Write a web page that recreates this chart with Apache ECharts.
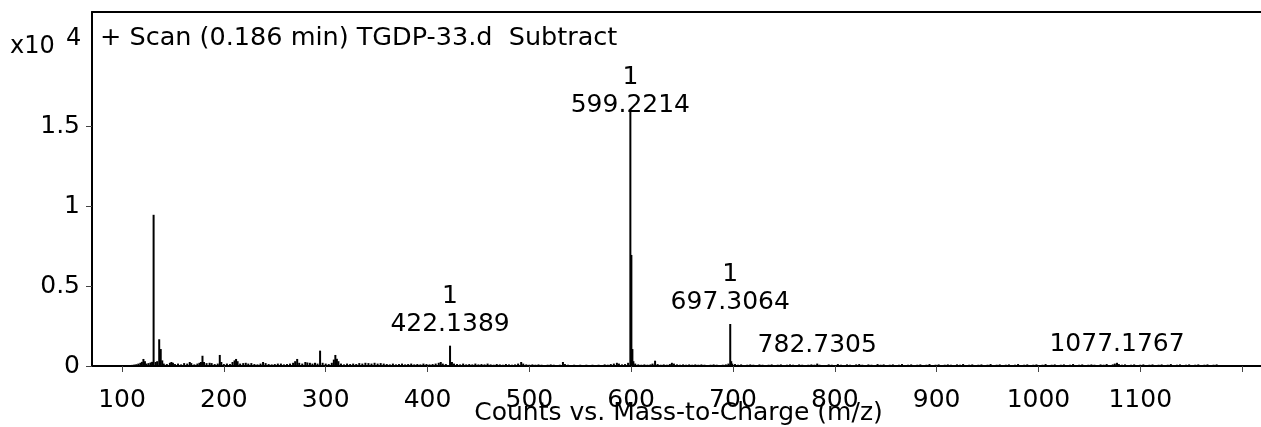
<!DOCTYPE html>
<html><head><meta charset="utf-8">
<script src="https://cdn.jsdelivr.net/npm/echarts@6/dist/echarts.min.js"></script>
<style>html,body{margin:0;padding:0;background:#fff}#c{width:1261px;height:427px}</style>
</head><body><div id="c"></div>
<script>
// [m/z, counts] sticks
const peaksLow = [
 [105,50],[108,60],[110,70],[112,90],[114,110],[116,150],[118,200],[119.5,260],[121,440],[122.5,300],[124,150],[126,180],[128,220],[129.5,260],
 [131,9450],[133,250],[134.5,300],[136.5,1670],[138,1060],[139.5,350],[141,150],[144,120],[147,200],[148.5,250],[150,200],[152,120],[155,150],
 [158,100],[161,180],[164,150],[166.5,250],[168,180],[171,100],[174,150],[176,200],[177.5,250],[179,640],[180.5,250],[183,180],[186,200],
 [188,180],[191,120],[194,150],[196,690],[197.5,250],[200,120],[203,150],[206,120],[208.5,250],[210.5,350],[212,440],[213.5,300],[216,150],
 [219,180],[221.5,200],[224,150],[227,180],[230,120],[233,100],[236,150],[238.5,250],[241,180],[244,120],[247,100],[250,120],[253,150],
 [256,150],[259,100],[262,120],[265,150],[268,200],[270,300],[272,440],[274,200],[277,150],[280,250],[282,220],[284.5,200],[287,150],
 [289.5,200],[292,150],[294.5,960],[297,200],[300,150],[303,120],[306,200],[308,400],[309.5,690],[311,450],[312.5,300],[315,150],[318,100],
 [321,150],[324,120],[327,150],[330,120],[333,180],[336,150],[339,200],[342,180],[345,150],[348,200],[351,150],[354,180],[357,150],
 [360,120],[363,100],[366,150],[369,100],[372,120],[375,150],[378,100],[381,120],[384,150],[387,100],[390,120],[393,100],[396,150],
 [399,120],[402,100],[405,120],[408,150],[411,200],[413,250],[415,150],[418,120]
];
const peaksMid = [
 [422.1389,1270],[424,250],[426,150],[429,120],[432,100],[435,150],[438,100],[441,120],[444,100],[447,150],[450,100],[453,120],[456,100],
 [459,150],[462,100],[465,80],[468,120],[471,100],[474,80],[477,120],[480,100],[483,80],[486,100],[489,150],[492,250],[494,150],[497,100],
 [500,80],[503,100],[506,80],[509,100],[512,80],[515,60],[518,80],[521,100],[524,80],[527,60],[530,80],[533,250],[535,120],[538,80],
 [541,60],[544,80],[547,60],[550,80],[553,60],[556,80],[559,60],[562,80],[565,60],[568,80],[571,60],[574,100],[577,80],[580,120],[583,150],
 [586,200],[588,150],[591,100],[594,120],[597,200],
 [599.2214,16000],[600.22,6940],[601.22,1060],[602.2,300],
 [604,150],[607,100],[610,80],[613,100],[616,80],[619,100],[621,150],[623.5,330],[626,120],[629,80],[632,100],[635,80],[638,120],[640,200],
 [642,150],[645,100],[648,80],[651,100],[654,80],[657,100],[660,80],[663,100],[666,80],[669,100],[672,80],[675,60],[678,80],[681,100],
 [684,80],[687,60],[690,80],[693,100],[695.5,150],[697.3064,2625],[698.3,300],[699.3,150]
];
const peaksHigh = [
 [702,120],[705,80],[708,100],[711,60],[714,80],[717,100],[720,80],[723,60],[726,100],[729,80],[732,60],[735,80],[738,100],[741,60],
 [744,80],[747,100],[750,60],[753,80],[756,100],[759,80],[762,60],[765,100],[768,80],[771,60],[774,80],[777,100],[780,80],[782.7305,150],
 [785,80],[788,60],[791,60],[794,100],[797,80],[800,60],[803,120],[806,80],[809,60],[812,100],[815,80],[818,60],[821,100],[824,120],
 [827,80],[830,60],[833,100],[836,80],[839,60],[842,120],[845,80],[848,100],[851,60],[854,80],[857,100],[860,60],[863,80],[866,120],
 [869,60],[872,80],[875,100],[878,60],[881,80],[884,100],[887,60],[890,80],[893,120],[896,60],[899,80],[902,100],[905,60],[908,80],
 [911,100],[914,80],[917,60],[920,100],[923,80],[926,120],[929,60],[932,80],[935,100],[938,60],[941,80],[944,100],[947,60],[950,80],
 [953,120],[956,60],[959,80],[962,100],[965,60],[968,80],[971,100],[974,60],[977,80],[980,120],[983,60],[986,80],[989,100],[992,60],
 [995,80],[998,100],[1001,60],[1004,80],[1007,120],[1010,60],[1013,80],[1016,100],[1019,60],[1022,80],[1025,100],[1028,60],[1031,80],
 [1034,120],[1037,60],[1040,80],[1043,100],[1046,60],[1049,80],[1052,100],[1055,80],[1058,60],[1061,100],[1064,80],[1067,120],[1070,60],
 [1073,100],[1075,150],[1077.1767,200],[1079,120],[1082,80],[1085,100],[1088,60],[1091,80],[1094,100],[1097,60],[1100,80],[1103,100],
 [1106,60],[1109,80],[1112,100],[1115,60],[1118,80],[1121,100],[1124,60],[1127,80],[1130,120],[1133,60],[1136,80],[1139,100],[1142,60],
 [1145,80],[1148,100],[1151,60],[1154,80],[1157,100],[1160,60],[1163,80],[1166,100],[1169,60],[1172,80],[1175,100],[1178,60],[1181,40],
 [1186,60],[1191,40]
];
// annotated peaks
const labelMz = [599.2214, 422.1389, 697.3064, 782.7305, 1077.1767];
const labelText = ['599.2214', '422.1389', '697.3064', '782.7305', '1077.1767'];
const labelCharge = ['1', '1', '1', '', ''];
// axes
const xTicks = [100,200,300,400,500,600,700,800,900,1000,1100,1200];
const xTickLabels = [100,200,300,400,500,600,700,800,900,1000,1100];
const yTicks = [0,5000,10000,15000];
const yTickLabels = ['0','0.5','1','1.5'];
const titleText = '+ Scan (0.186 min) TGDP-33.d  Subtract';
const xName = 'Counts vs. Mass-to-Charge (m/z)';

const FONT = 'DejaVu Sans';
const sticks = peaksLow.concat(peaksMid, peaksHigh);
const countOf = m => { const p = sticks.find(s => s[0] === m); return p ? p[1] : 0; };
const labelDistance = { '599.2214': -10, '782.7305': 4, '1077.1767': 4 };
const annData = labelMz.map((m, i) => ({
  value: [m, countOf(m)],
  label: { distance: labelDistance[labelText[i]] !== undefined ? labelDistance[labelText[i]] : 7,
           formatter: labelCharge[i] ? labelCharge[i] + '\n' + labelText[i] : labelText[i] }
}));

const chart = echarts.init(document.getElementById('c'), null, { renderer: 'canvas' });
chart.setOption({
  animation: false,
  backgroundColor: '#fff',
  title: [
    { text: titleText, left: 100, top: 25, padding: 0,
      textStyle: { fontFamily: FONT, fontSize: 25.5, fontWeight: 'normal', color: '#000' } },
    { text: 'x10', left: 10, top: 35, padding: 0,
      textStyle: { fontFamily: FONT, fontSize: 24, fontWeight: 'normal', color: '#000' } },
    { text: '4', left: 66, top: 27, padding: 0,
      textStyle: { fontFamily: FONT, fontSize: 24, fontWeight: 'normal', color: '#000' } }
  ],
  grid: { left: 92, right: -4, top: 12, bottom: 61, outerBoundsMode: 'none', containLabel: false },
  xAxis: [{
    type: 'value', min: 70.5, max: 1222.5, position: 'bottom',
    axisLine: { show: true, onZero: false, lineStyle: { color: '#000', width: 2 } },
    axisTick: { show: true, customValues: xTicks, length: 6, lineStyle: { color: '#444', width: 1 } },
    axisLabel: { show: true, customValues: xTickLabels, margin: 17, padding: [5, 0, 0, 0],
      fontFamily: FONT, fontSize: 25, color: '#000', formatter: v => String(v) },
    splitLine: { show: false },
    name: xName, nameLocation: 'middle', nameGap: 35, nameMoveOverlap: false,
    nameTextStyle: { fontFamily: FONT, fontSize: 25, color: '#000' }
  }, {
    type: 'value', min: 70.5, max: 1222.5, position: 'top',
    axisLine: { show: true, onZero: false, lineStyle: { color: '#000', width: 2 } },
    axisTick: { show: false }, axisLabel: { show: false }, splitLine: { show: false }
  }],
  yAxis: {
    type: 'value', min: 0, max: 22125,
    axisLine: { show: true, lineStyle: { color: '#000', width: 2 } },
    axisTick: { show: true, customValues: yTicks, length: 6, lineStyle: { color: '#444', width: 1 } },
    axisLabel: { show: true, customValues: yTicks, margin: 12, fontFamily: FONT, fontSize: 25, color: '#000',
      formatter: v => yTickLabels[yTicks.indexOf(v)] },
    splitLine: { show: false }
  },
  series: [{
    type: 'custom', xAxisIndex: 0, yAxisIndex: 0, clip: true,
    data: sticks,
    renderItem: (params, api) => {
      const p0 = api.coord([api.value(0), 0]);
      const p1 = api.coord([api.value(0), api.value(1)]);
      return { type: 'line', shape: { x1: p0[0], y1: p0[1], x2: p1[0], y2: p1[1] },
               style: { stroke: '#000', lineWidth: 2 } };
    }
  }, {
    type: 'scatter', xAxisIndex: 0, yAxisIndex: 0, symbolSize: 0.1,
    itemStyle: { color: 'rgba(0,0,0,0)', opacity: 1 },
    data: annData,
    label: { show: true, position: 'top', fontFamily: FONT, fontSize: 25, color: '#000',
             textBorderWidth: 0, lineHeight: 28, align: 'center' }
  }]
});
</script></body></html>
